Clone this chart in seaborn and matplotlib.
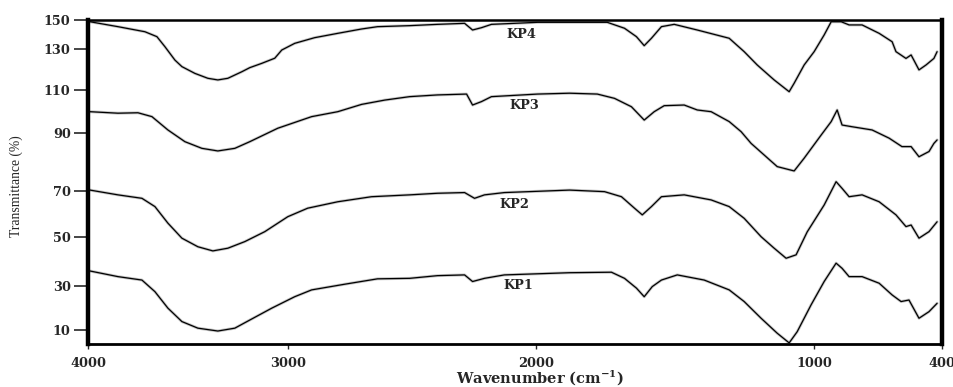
import numpy as np
import pandas as pd
import matplotlib
matplotlib.use("Agg")
import matplotlib.pyplot as plt
import seaborn as sns

# FTIR spectra, values (wavenumber cm-1, transmittance %)
kp4_wn = [3990, 3850, 3715, 3655, 3615, 3565, 3530, 3465, 3400, 3350, 3300, 3230, 3190, 3130,
          3065, 3030, 2972, 2892, 2799, 2703, 2639, 2510, 2398, 2289, 2257, 2221, 2181, 1996,
          1881, 1745, 1683, 1640, 1612, 1586, 1550, 1504, 1421, 1306, 1252, 1205, 1144, 1090,
          1072, 1036, 1000, 953, 920, 873, 836, 775, 695, 634, 616, 569, 545, 508, 475, 438, 423]
kp4_t = [148.8, 145.4, 141.9, 138.5, 131.6, 124.6, 121.4, 118.1, 115.7, 114.9, 115.7, 118.9, 120.9, 123.0,
         125.5, 129.5, 133.9, 137.8, 140.8, 143.8, 145.4, 146.1, 147.0, 147.7, 143.1, 144.7, 147.0, 148.4,
         148.4, 148.4, 144.3, 138.5, 132.3, 137.4, 145.4, 147.0, 143.1, 137.4, 128.7, 122.2, 114.9, 109.2,
         113.3, 122.2, 128.7, 139.7, 148.8, 148.8, 146.6, 146.6, 140.8, 135.0, 128.7, 125.4, 127.1, 119.8,
         122.2, 125.4, 128.7]

kp3_wn = [3990, 3850, 3750, 3680, 3600, 3515, 3430, 3350, 3265, 3190, 3050, 2904, 2799, 2703,
          2610, 2510, 2398, 2281, 2257, 2221, 2181, 1996, 1881, 1781, 1719, 1658, 1612, 1576,
          1540, 1468, 1421, 1371, 1306, 1263, 1227, 1180, 1133, 1072, 1036, 967, 920, 892,
          869, 822, 728, 648, 588, 545, 508, 461, 438, 423]
kp3_t = [99.9, 99.2, 99.4, 97.6, 91.4, 87.0, 84.7, 83.8, 84.7, 87.0, 92.2, 97.6, 99.9, 103.3,
         105.3, 106.9, 107.7, 108.1, 103.0, 104.6, 106.9, 108.1, 108.5, 108.1, 106.1, 102.2, 96.0, 99.9,
         102.7, 103.0, 100.7, 99.9, 95.3, 90.6, 86.4, 82.4, 78.4, 76.9, 81.3, 89.3, 95.3, 100.7,
         93.7, 92.9, 91.4, 88.2, 85.3, 85.3, 81.8, 83.6, 86.4, 87.6]

kp2_wn = [3990, 3850, 3730, 3665, 3600, 3530, 3450, 3375, 3300, 3215, 3115, 3000, 2920, 2799,
          2663, 2510, 2398, 2289, 2249, 2209, 2129, 1881, 1755, 1694, 1647, 1619, 1586, 1550,
          1468, 1371, 1306, 1252, 1191, 1144, 1101, 1065, 1025, 953, 897, 869, 836, 775,
          695, 616, 569, 545, 508, 461, 423]
kp2_t = [70.3, 68.3, 66.8, 63.2, 56.0, 49.5, 46.0, 44.3, 45.4, 48.1, 52.3, 58.8, 62.5, 65.3,
         67.5, 68.3, 69.0, 69.3, 66.8, 68.3, 69.3, 70.3, 69.7, 67.5, 62.5, 59.6, 63.2, 67.5,
         68.3, 66.1, 63.2, 58.1, 50.1, 45.4, 41.3, 42.7, 52.2, 63.9, 73.2, 70.9, 67.5, 68.3,
         65.3, 59.6, 54.5, 55.2, 49.5, 52.3, 56.6]

kp1_wn = [3990, 3850, 3730, 3665, 3600, 3530, 3450, 3350, 3265, 3190, 3080, 2972, 2904, 2771,
          2639, 2510, 2398, 2289, 2257, 2209, 2129, 1881, 1730, 1683, 1640, 1612, 1583, 1550,
          1493, 1396, 1306, 1252, 1191, 1133, 1090, 1061, 1011, 953, 897, 869, 836, 775,
          695, 634, 592, 555, 508, 461, 423]
kp1_t = [36.1, 33.8, 32.4, 27.4, 19.9, 13.8, 10.8, 9.5, 10.8, 14.5, 19.9, 25.1, 28.2, 30.7,
         32.9, 33.1, 34.2, 34.5, 31.8, 33.1, 34.5, 35.4, 35.6, 33.1, 29.0, 25.1, 29.7, 32.4,
         34.5, 32.4, 28.2, 22.9, 15.3, 8.5, 4.1, 9.2, 21.4, 31.8, 39.3, 37.2, 33.8, 33.8,
         31.1, 25.9, 22.9, 23.6, 15.3, 18.3, 22.1]

samples = ["KP1", "KP2", "KP3", "KP4"]
label_wn = [2072, 2088, 2048, 2060]
label_t = [30.0, 64.3, 102.6, 140.3]

x_ticks = [400, 1000, 2000, 3000, 4000]
y_ticks = [10, 30, 50, 70, 90, 110, 130, 150]

# the original axes are not evenly spaced: piecewise-linear scales between ticks
x_pos = [0, 128, 406, 655, 855]
y_pos = [0, 44, 93, 139, 197, 240, 281, 310]


def piecewise(vals, pos):
    v = np.asarray(vals, float)
    p = np.asarray(pos, float)

    def make(a, b):
        s0 = (b[1] - b[0]) / (a[1] - a[0])
        s1 = (b[-1] - b[-2]) / (a[-1] - a[-2])

        def f(x):
            x = np.asarray(x, float)
            out = np.interp(x, a, b)
            out = np.where(x < a[0], b[0] + (x - a[0]) * s0, out)
            out = np.where(x > a[-1], b[-1] + (x - a[-1]) * s1, out)
            return out
        return f

    return make(v, p), make(p, v)


frames = []
for name, wn, t in zip(samples, [kp1_wn, kp2_wn, kp3_wn, kp4_wn], [kp1_t, kp2_t, kp3_t, kp4_t]):
    frames.append(pd.DataFrame({"wavenumber": wn, "T": t, "sample": name}))
df = pd.concat(frames, ignore_index=True)

sns.set_style("white")
plt.rcParams["font.family"] = ["DejaVu Serif"]
plt.rcParams["mathtext.fontset"] = "dejavuserif"

fig = plt.figure(figsize=(9.54, 3.87), dpi=100)
ax = fig.add_axes([88 / 954, 1 - 344 / 387, (942 - 88) / 954, (344 - 20) / 387])

for name in samples:
    d = df[df["sample"] == name]
    # soft grey halo like the scanned trace, then the black line
    sns.lineplot(data=d, x="wavenumber", y="T", ax=ax, color="#c4c4c4", lw=2.1,
                 estimator=None, sort=False)
    sns.lineplot(data=d, x="wavenumber", y="T", ax=ax, color="black", lw=0.9,
                 estimator=None, sort=False)

ax.set_xscale("function", functions=piecewise(x_ticks, x_pos))
ax.set_yscale("function", functions=piecewise(y_ticks, y_pos))
ax.set_xlim(4000, 400)
ax.set_ylim(3.6, 150)
ax.set_xticks(x_ticks)
ax.set_xticklabels([str(v) for v in x_ticks])
ax.set_yticks(y_ticks)
ax.set_yticklabels([str(v) for v in y_ticks])
ax.minorticks_off()

for lab in ax.get_xticklabels() + ax.get_yticklabels():
    lab.set_fontweight("bold")
    lab.set_fontsize(9.3)

ax.tick_params(axis="y", direction="out", length=10, width=1.2, pad=2.5, left=True)
ax.tick_params(axis="x", direction="out", length=3.6, width=1.0, pad=6, bottom=True)

ax.spines["left"].set_linewidth(3.2)
ax.spines["right"].set_linewidth(3.2)
ax.spines["top"].set_linewidth(1.8)
ax.spines["bottom"].set_linewidth(2.0)
for s in ax.spines.values():
    s.set_color("black")

ax.set_xlabel("")
ax.set_ylabel("")

for name, x, y in zip(samples, label_wn, label_t):
    ax.text(x, y, name, ha="center", va="center", fontsize=9.3, fontweight="bold")

fig.text(540 / 954, 1 - 378 / 387, r"Wavenumber (cm$^{\mathbf{-1}}$)", ha="center", va="center",
         fontsize=10.5, fontweight="bold")
fig.text(16 / 954, 1 - 186 / 387, "Transmittance (%)", rotation=90, ha="center", va="center",
         fontsize=9.8, family=["Liberation Serif", "DejaVu Serif"])

fig.savefig("out.png", dpi=100, facecolor="white")
